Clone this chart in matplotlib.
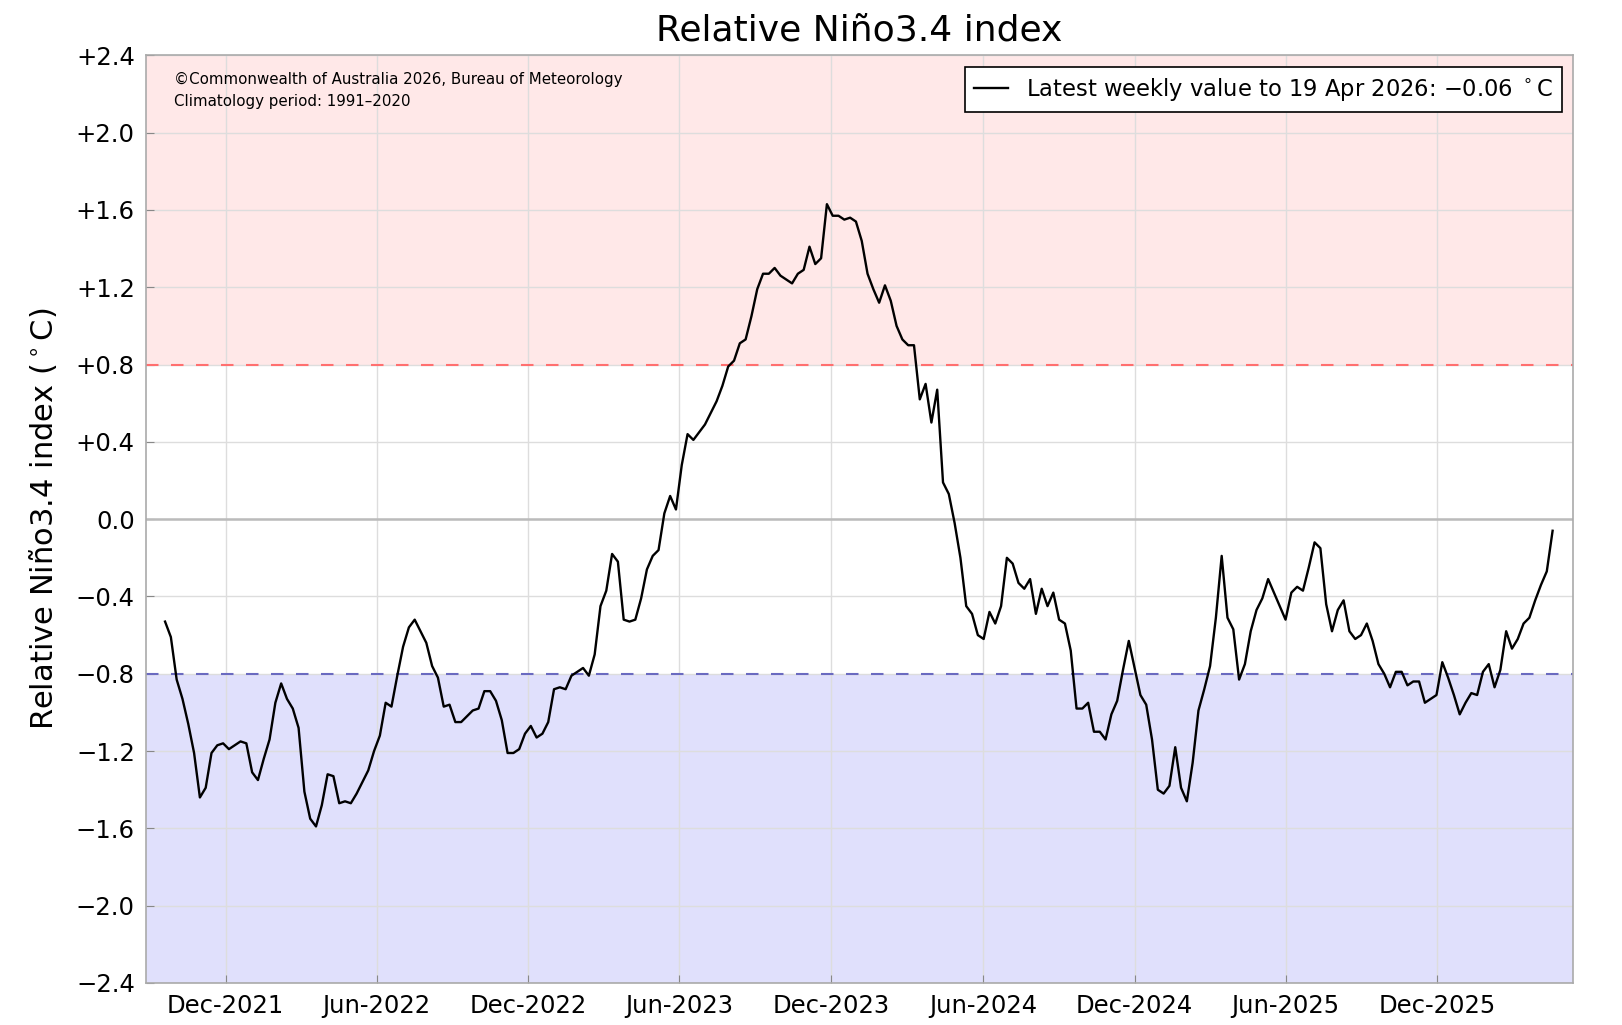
import matplotlib
matplotlib.use('Agg')
import matplotlib.pyplot as plt
import matplotlib.dates as mdates
from matplotlib.ticker import FuncFormatter
import pandas as pd

# weekly relative Nino3.4 values (deg C), ending 19 Apr 2026
vals = [-0.53, -0.61, -0.83, -0.93, -1.06, -1.21, -1.44, -1.39, -1.21, -1.17,
        -1.16, -1.19, -1.17, -1.15, -1.16, -1.31, -1.35, -1.24, -1.14, -0.95,
        -0.85, -0.93, -0.98, -1.08, -1.41, -1.55, -1.59, -1.48, -1.32, -1.33,
        -1.47, -1.46, -1.47, -1.42, -1.36, -1.30, -1.20, -1.12, -0.95, -0.97,
        -0.81, -0.66, -0.56, -0.52, -0.58, -0.64, -0.76, -0.82, -0.97, -0.96,
        -1.05, -1.05, -1.02, -0.99, -0.98, -0.89, -0.89, -0.94, -1.04, -1.21,
        -1.21, -1.19, -1.11, -1.07, -1.13, -1.11, -1.05, -0.88, -0.87, -0.88,
        -0.81, -0.79, -0.77, -0.81, -0.70, -0.45,
        -0.37, -0.18, -0.22, -0.52, -0.53, -0.52, -0.41, -0.26, -0.19, -0.16,
        0.03, 0.12, 0.05, 0.28, 0.44, 0.41, 0.45, 0.49, 0.55, 0.61,
        0.69, 0.79, 0.82, 0.91, 0.93, 1.05, 1.19, 1.27, 1.27, 1.30,
        1.26, 1.24, 1.22, 1.27, 1.29, 1.41, 1.32, 1.35, 1.63, 1.57,
        1.57, 1.55, 1.56, 1.54, 1.44, 1.27, 1.19, 1.12, 1.21, 1.13,
        1.00, 0.93, 0.90, 0.90, 0.62, 0.70, 0.50, 0.67, 0.19, 0.13,
        -0.02,
        -0.20, -0.45, -0.49, -0.60, -0.62, -0.48, -0.54, -0.45, -0.20, -0.23,
        -0.33, -0.36, -0.31, -0.49, -0.36, -0.45, -0.38, -0.52, -0.54, -0.68,
        -0.98, -0.98, -0.95, -1.10, -1.10, -1.14, -1.01, -0.94, -0.78, -0.63,
        -0.77, -0.91, -0.96, -1.14, -1.40, -1.42, -1.38, -1.18, -1.39, -1.46,
        -1.26, -0.99, -0.88, -0.76, -0.51, -0.19, -0.51, -0.57, -0.83,
        -0.75, -0.58, -0.47, -0.41, -0.31, -0.38, -0.45, -0.52, -0.38, -0.35,
        -0.37, -0.25, -0.12, -0.15, -0.44, -0.58, -0.47, -0.42, -0.58, -0.62,
        -0.60, -0.54, -0.63, -0.75, -0.80, -0.87, -0.79, -0.79, -0.86, -0.84,
        -0.84, -0.95, -0.93, -0.91, -0.74, -0.82, -0.91, -1.01, -0.95, -0.90,
        -0.91, -0.79, -0.75, -0.87, -0.78, -0.58, -0.67, -0.62, -0.54, -0.51,
        -0.42, -0.34, -0.27, -0.06]
last_date = '2026-04-19'
dates = pd.date_range(end=last_date, periods=len(vals), freq='7D')

yticks = [-2.4, -2.0, -1.6, -1.2, -0.8, -0.4, 0.0, 0.4, 0.8, 1.2, 1.6, 2.0, 2.4]
xticks = ['2021-12-01', '2022-06-01', '2022-12-01', '2023-06-01', '2023-12-01',
          '2024-06-01', '2024-12-01', '2025-06-01', '2025-12-01']
thresh = 0.8

fig = plt.figure(figsize=(16.22, 10.25), dpi=100)
ax = fig.add_axes([0.090, 0.041, 0.880, 0.905])

xmin = pd.Timestamp('2021-08-27')
xmax = pd.Timestamp('2026-05-14')

# shaded El Nino / La Nina zones
ax.axhspan(thresh, 2.4, color='#ffe8e8', zorder=0, lw=0)
ax.axhspan(-2.4, -thresh, color='#e0e0fc', zorder=0, lw=0)
ax.axhline(thresh, color='#ff6f6f', ls=(0, (6, 6)), lw=1.5, zorder=2)
ax.axhline(-thresh, color='#6a6ac0', ls=(0, (6, 6)), lw=1.5, zorder=2)
ax.axhline(0, color='#bbbbbb', lw=1.8, zorder=1)

ax.plot(dates, vals, color='k', lw=1.7, zorder=3,
        label='Latest weekly value to 19 Apr 2026: \u22120.06 $^\\circ$C')

ax.set_xlim(xmin, xmax)
ax.set_ylim(-2.4, 2.4)
ax.set_yticks(yticks)
ax.set_xticks(pd.to_datetime(xticks))
ax.xaxis.set_major_formatter(mdates.DateFormatter('%b-%Y'))

def fmt(v, pos):
    if abs(v) < 1e-9:
        return '0.0'
    if v > 0:
        return '+%.1f' % v
    return '\u2212%.1f' % abs(v)
ax.yaxis.set_major_formatter(FuncFormatter(fmt))

ax.grid(True, color='#dddddd', lw=1.0, zorder=0)
ax.set_axisbelow(True)
ax.tick_params(direction='in', length=6, color='#888888', labelsize=17.5, pad=8)
for s in ax.spines.values():
    s.set_color('#aaaaaa')
    s.set_linewidth(1.2)

ax.set_title('Relative Niño3.4 index', fontsize=26, pad=11)
ax.set_ylabel('Relative Niño3.4 index ($^\\circ$C)', fontsize=22, labelpad=12)

ax.text(0.0196, 0.974, '\u00a9Commonwealth of Australia 2026, Bureau of Meteorology',
        transform=ax.transAxes, fontsize=10.8, va='center')
ax.text(0.0196, 0.950, 'Climatology period: 1991\u20132020',
        transform=ax.transAxes, fontsize=10.8, va='center')

leg = ax.legend(loc='upper right', fontsize=16.3, fancybox=False, framealpha=1,
                edgecolor='k', borderaxespad=0.5, handlelength=1.5)
leg.get_frame().set_linewidth(1.2)

fig.savefig('out.png', dpi=100)
